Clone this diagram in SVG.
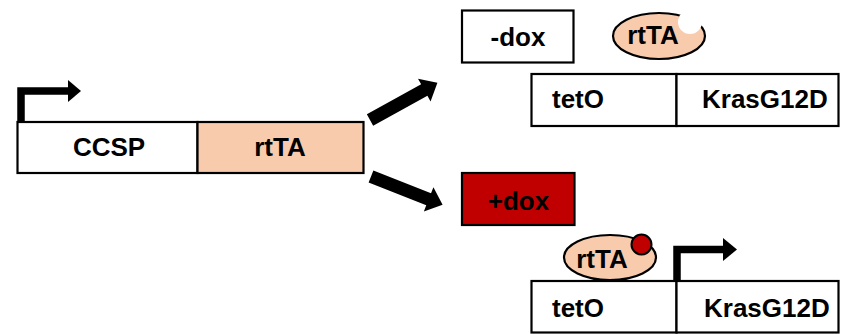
<svg xmlns="http://www.w3.org/2000/svg" width="841" height="334" viewBox="0 0 841 334">
  <defs>
    <style>
      .box { fill: #ffffff; stroke: #000000; stroke-width: 2.2; }
      .peach { fill: #F8CBAD; stroke: #000000; stroke-width: 2.2; }
      .dox { fill: #C00000; stroke: #000000; stroke-width: 2.2; }
      .lbl { font-family: "Liberation Sans", Arial, sans-serif; font-weight: bold; font-size: 26px; fill: #000000; }
      .mid { text-anchor: middle; }
      .promoter { fill: none; stroke: #000000; stroke-width: 7.5; stroke-linejoin: miter; }
    </style>
    <!-- thick block arrow, tail at origin pointing along +x -->
    <path id="blockArrow" d="M0,-6.5 L62,-6.5 L62,-13 L77,0 L62,13 L62,6.5 L0,6.5 Z" fill="#000000"/>
  </defs>

  <!-- CCSP-rtTA transgene -->
  <g id="ccsp-construct">
    <rect class="box" x="17.5" y="122" width="180" height="51"/>
    <rect class="peach" x="197.5" y="122" width="166" height="51"/>
    <text class="lbl mid" x="109" y="155.5">CCSP</text>
    <text class="lbl mid" x="280" y="155.5">rtTA</text>
    <path class="promoter" d="M21,122 V91 H69"/>
    <polygon points="68,80 81,91 68,102" fill="#000000"/>
  </g>

  <!-- connectors -->
  <g id="connectors">
    <use href="#blockArrow" transform="translate(370,120) rotate(-28.9)"/>
    <use href="#blockArrow" transform="translate(371,176.5) rotate(21.6)"/>
  </g>

  <!-- no doxycycline -->
  <g id="minus-dox">
    <rect class="box" x="462" y="10.5" width="111.5" height="52"/>
    <text class="lbl mid" x="518" y="46">-dox</text>
  </g>

  <g id="rtta-free">
    <ellipse class="peach" cx="659" cy="36" rx="46" ry="23"/>
    <circle cx="690" cy="22" r="12" fill="#ffffff"/>
    <text class="lbl mid" x="653" y="44">rtTA</text>
  </g>

  <g id="teto-off">
    <rect class="box" x="531.5" y="74" width="145" height="52"/>
    <rect class="box" x="676.5" y="74" width="162" height="52"/>
    <text class="lbl" x="552" y="108">tetO</text>
    <text class="lbl" x="702" y="108">KrasG12D</text>
  </g>

  <!-- with doxycycline -->
  <g id="plus-dox">
    <rect class="dox" x="462" y="173" width="112.5" height="52"/>
    <text class="lbl mid" x="518.5" y="209.5">+dox</text>
  </g>

  <g id="rtta-bound">
    <ellipse class="peach" cx="610" cy="257.5" rx="46" ry="22.5"/>
    <circle cx="641.5" cy="244.5" r="10" fill="#C00000" stroke="#000000" stroke-width="2"/>
    <text class="lbl mid" x="602" y="268">rtTA</text>
  </g>

  <g id="teto-on">
    <rect class="box" x="531.5" y="281" width="145" height="51.5"/>
    <rect class="box" x="676.5" y="281" width="162" height="51.5"/>
    <text class="lbl" x="552" y="316.5">tetO</text>
    <text class="lbl" x="704" y="316.5">KrasG12D</text>
    <path class="promoter" d="M677,281 V249.5 H724"/>
    <polygon points="723,238 737,249.5 723,261" fill="#000000"/>
  </g>
</svg>
